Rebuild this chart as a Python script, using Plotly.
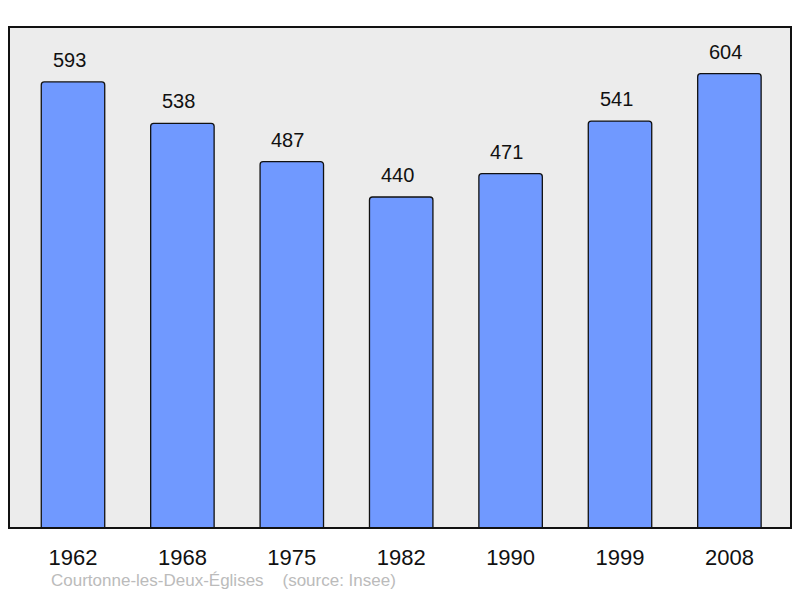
import plotly.graph_objects as go

years = ["1962", "1968", "1975", "1982", "1990", "1999", "2008"]
population = [593, 538, 487, 440, 471, 541, 604]

font = "Liberation Sans, Arial, sans-serif"
idx = list(range(len(years)))

fig = go.Figure()
fig.add_trace(go.Bar(
    x=idx,
    y=population,
    width=0.58,
    marker=dict(color="#7099ff", line=dict(color="#111111", width=1.3), cornerradius=3),
    hoverinfo="x+y",
))

# valeurs au-dessus des barres
for i, v in zip(idx, population):
    fig.add_annotation(x=i, y=v, text=str(v), showarrow=False,
                       yanchor="bottom", yshift=9, xshift=-4,
                       font=dict(family=font, size=20, color="#111111"))

# cadre de la zone de tracé
fig.add_shape(type="rect", xref="paper", yref="paper", x0=0, y0=0, x1=1, y1=1,
              line=dict(color="#111111", width=2), layer="above")

fig.add_annotation(xref="paper", yref="paper", x=0.051, y=-0.105, xanchor="left",
                   yanchor="middle", showarrow=False,
                   text="Courtonne-les-Deux-Églises&nbsp;&nbsp;&nbsp;&nbsp;(source: Insee)",
                   font=dict(family=font, size=17, color="#bbbbbb"))

# la page ajoute 8px de marge autour du graphique
fig.update_layout(
    width=784, height=582,
    margin=dict(l=1, r=1, t=19, b=62),
    plot_bgcolor="#ececec",
    paper_bgcolor="white",
    showlegend=False,
    xaxis=dict(range=[-0.585, 6.563], tickmode="array", tickvals=idx, ticktext=years,
               showgrid=False, zeroline=False, ticks="", showline=False,
               tickfont=dict(family=font, size=22, color="#111111"), ticklabelstandoff=14),
    yaxis=dict(range=[0, 666], visible=False, showgrid=False, zeroline=False),
)

fig.write_html("out.html")
